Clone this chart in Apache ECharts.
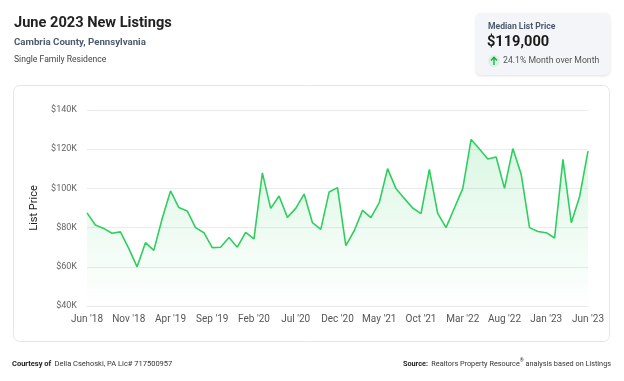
<!DOCTYPE html>
<html><head><meta charset="utf-8">
<script src="https://cdn.jsdelivr.net/npm/echarts@6/dist/echarts.min.js"></script>
<style>html,body{margin:0;padding:0;background:#fff}#c{width:624px;height:381px}</style>
</head><body><div id="c"></div>
<script>
const months = ["Jun '18","Jul '18","Aug '18","Sep '18","Oct '18","Nov '18","Dec '18","Jan '19","Feb '19","Mar '19","Apr '19","May '19","Jun '19","Jul '19","Aug '19","Sep '19","Oct '19","Nov '19","Dec '19","Jan '20","Feb '20","Mar '20","Apr '20","May '20","Jun '20","Jul '20","Aug '20","Sep '20","Oct '20","Nov '20","Dec '20","Jan '21","Feb '21","Mar '21","Apr '21","May '21","Jun '21","Jul '21","Aug '21","Sep '21","Oct '21","Nov '21","Dec '21","Jan '22","Feb '22","Mar '22","Apr '22","May '22","Jun '22","Jul '22","Aug '22","Sep '22","Oct '22","Nov '22","Dec '22","Jan '23","Feb '23","Mar '23","Apr '23","May '23","Jun '23"];
const listPrice = [87.5,81.3,79.6,77.1,77.8,69.4,60,72.3,68.4,84.5,98.7,90.2,88.5,80,77.4,69.8,70,74.9,70,77.6,74.2,107.9,89.8,96.1,85.2,89.8,97.1,82.5,79.1,98.2,100.4,70.8,78.4,88.8,85.1,92.7,110.1,99.9,94.9,90,87.1,109.7,87.3,80,90,99.9,125,120.1,115,116,100,120.3,107.2,80,78,77.4,74.7,114.8,82.5,95.9,119];
const yTicks = [40,60,80,100,120,140];

const font = 'Roboto';
const chart = echarts.init(document.getElementById('c'));
chart.setOption({
  animation:false,
  textStyle:{fontFamily:font},
  grid:{left:87,right:36,top:110,bottom:75},
  xAxis:{type:'category',data:months,boundaryGap:false,
    axisLine:{show:true,lineStyle:{color:'#e6e8ee'}},axisTick:{show:false},
    axisLabel:{interval:4,color:'#555',fontSize:10,margin:8,fontFamily:font}},
  yAxis:{type:'value',min:yTicks[0],max:yTicks[yTicks.length-1],interval:20,
    name:'List Price',nameLocation:'middle',nameGap:37,nameRotate:90,
    nameTextStyle:{color:'#222',fontSize:11,fontFamily:font},
    axisLine:{show:false},axisTick:{show:false},
    splitLine:{lineStyle:{color:'#e9ebf0'}},
    axisLabel:{color:'#666',fontSize:9,margin:10,fontFamily:font,formatter:v=>'$'+v+'K'}},
  series:[{type:'line',data:listPrice,symbol:'none',
    lineStyle:{color:'#2fcf5f',width:1.6},
    areaStyle:{color:new echarts.graphic.LinearGradient(0,0,0,1,[{offset:0,color:'rgba(47,207,95,0.25)'},{offset:1,color:'rgba(47,207,95,0.0)'}])}}],
  graphic:[
    {type:'rect',shape:{x:13.5,y:85.5,width:596,height:256,r:6},style:{fill:'none',stroke:'#e3e6ec',lineWidth:1},z:-10},
    {type:'text',left:14,top:16,style:{text:'June 2023 New Listings',font:'bold 14.6px '+font,fill:'#222'}},
    {type:'text',left:14,top:38,style:{text:'Cambria County, Pennsylvania',font:'bold 9.7px '+font,fill:'#4d5a6e'}},
    {type:'text',left:14,top:55,style:{text:'Single Family Residence',font:'8.6px '+font,fill:'#444'}},
    {type:'rect',shape:{x:476,y:13,width:134,height:62,r:5},style:{fill:'#f4f5f8',shadowBlur:3,shadowColor:'rgba(0,0,0,0.12)',shadowOffsetY:1}},
    {type:'text',left:488,top:22,style:{text:'Median List Price',font:'bold 8.6px '+font,fill:'#4d5a6e'}},
    {type:'text',left:487,top:35,style:{text:'$119,000',font:'bold 14.6px '+font,fill:'#1a1a1a'}},
    {type:'circle',shape:{cx:494,cy:61,r:6},style:{fill:'#d6f4df'}},
    {type:'line',shape:{x1:494,y1:57.5,x2:494,y2:65},style:{stroke:'#16a34a',lineWidth:1.3}},
    {type:'polyline',shape:{points:[[491,60.5],[494,57.3],[497,60.5]]},style:{stroke:'#16a34a',lineWidth:1.3,fill:'none'}},
    {type:'text',left:503,top:56,style:{text:'24.1% Month over Month',font:'8.7px '+font,fill:'#555'}},
    {type:'text',left:12,top:358,style:{rich:{b:{font:'bold 7.5px '+font,fill:'#222'},n:{font:'7.5px '+font,fill:'#333'}},text:'{b|Courtesy of} {n|Della Csehoski, PA Lic# 717500957}'}},
    {type:'text',right:13,top:358,style:{rich:{b:{font:'bold 7.3px '+font,fill:'#222'},n:{font:'7.3px '+font,fill:'#333'},s:{font:'5px '+font,fill:'#333',verticalAlign:'top'}},text:'{b|Source:} {n|Realtors Property Resource}{s|®}{n| analysis based on Listings}'}}
  ]
});
</script></body></html>
